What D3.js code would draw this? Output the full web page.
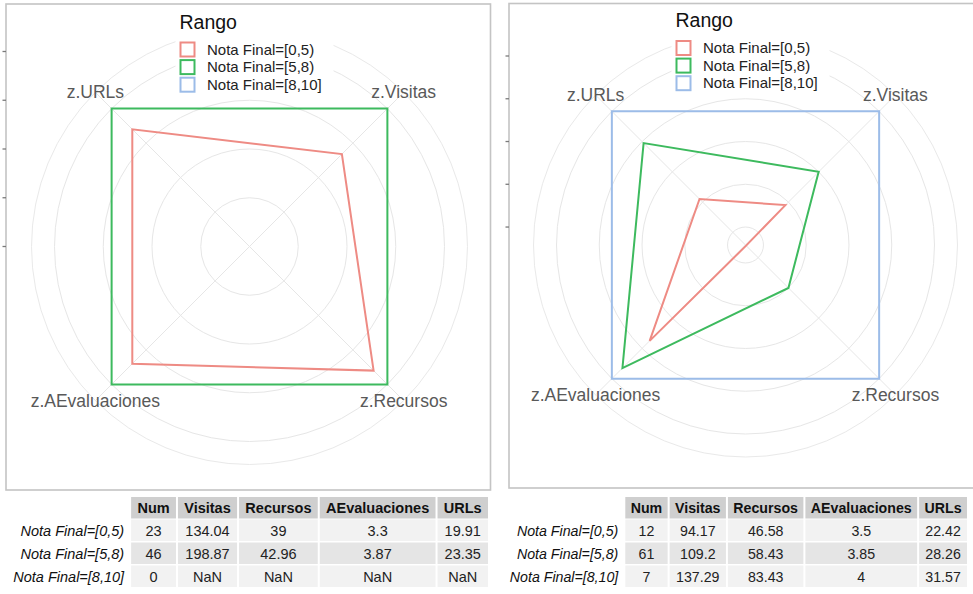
<!DOCTYPE html>
<html><head><meta charset="utf-8">
<script src="https://cdn.jsdelivr.net/npm/d3@7"></script>
<style>
body{margin:0;background:#fff;}
svg{display:block;font-family:"Liberation Sans",Arial,Helvetica,sans-serif;}
</style>
</head><body><svg id="c" width="973" height="594"></svg>
<script>
// ---------------- data ----------------
const categories = ["z.Visitas", "z.Recursos", "z.AEvaluaciones", "z.URLs"];
const groups = ["Nota Final=[0,5)", "Nota Final=[5,8)", "Nota Final=[8,10]"];
const groupColors = ["#ee8b84", "#3dba5e", "#9cbce8"];
const legendTitle = "Rango";

// left radar (scaled values); [8,10] has no rows -> no polygon
const leftZ05 = [0.67, 0.90, 0.85, 0.85];
const leftZ58 = [1, 1, 1, 1];
const leftZ810 = null;
const leftRadialMin = 0;
const leftGridTicks = [0, 0.25, 0.5, 0.75, 1];

// right radar
const rightZ05 = [0.69, 0.56, 0.875, 0.71];
const rightZ58 = [0.80, 0.70, 0.965, 0.895];
const rightZ810 = [1, 1, 1, 1];
const rightRadialMin = 0.558;
const rightGridTicks = [0.6, 0.7, 0.8, 0.9, 1];

// summary tables
const tableCols = ["Num", "Visitas", "Recursos", "AEvaluaciones", "URLs"];
const leftTableRows = [
  ["23", "134.04", "39", "3.3", "19.91"],
  ["46", "198.87", "42.96", "3.87", "23.35"],
  ["0", "NaN", "NaN", "NaN", "NaN"]
];
const rightTableRows = [
  ["12", "94.17", "46.58", "3.5", "22.42"],
  ["61", "109.2", "58.43", "3.85", "28.26"],
  ["7", "137.29", "83.43", "4", "31.57"]
];

// ---------------- drawing ----------------
const svg = d3.select("#c");

const panels = [
  { cx: 249.5, cy: 246.5, rMax: 195, frame: [6, 4, 484.5, 486],
    series: [leftZ05, leftZ58, leftZ810], rMin: leftRadialMin, ticks: leftGridTicks },
  { cx: 745.5, cy: 245, rMax: 189, frame: [509, 3.5, 520, 484.5],
    series: [rightZ05, rightZ58, rightZ810], rMin: rightRadialMin, ticks: rightGridTicks }
];

const angle = d3.scalePoint().domain(categories).range([Math.PI / 4, Math.PI / 4 + 1.5 * Math.PI]);

panels.forEach(p => {
  const g = svg.append("g");
  const r = d3.scaleLinear().domain([p.rMin, 1]).range([0, p.rMax]);
  const rOuter = p.rMax + 23;

  // frame
  g.append("rect").attr("x", p.frame[0]).attr("y", p.frame[1])
    .attr("width", p.frame[2]).attr("height", p.frame[3])
    .attr("fill", "none").attr("stroke", "#c4c4c4").attr("stroke-width", 1.6);

  // left-side ticks
  g.selectAll(".ytick").data(p.ticks).join("line")
    .attr("x1", p.frame[0] - 3.5).attr("x2", p.frame[0])
    .attr("y1", d => p.cy - r(d)).attr("y2", d => p.cy - r(d))
    .attr("stroke", "#7a7a7a").attr("stroke-width", 1.3);

  const pg = g.append("g").attr("transform", `translate(${p.cx},${p.cy})`);

  // grid circles
  pg.selectAll(".grid").data(p.ticks.filter(t => r(t) > 1)).join("circle")
    .attr("r", d => r(d)).attr("fill", "none")
    .attr("stroke", "#e6e6e6").attr("stroke-width", 1);
  pg.append("circle").attr("r", rOuter).attr("fill", "none")
    .attr("stroke", "#e9e9e9").attr("stroke-width", 1);

  // spokes
  pg.selectAll(".spoke").data(categories).join("line")
    .attr("x1", 0).attr("y1", 0)
    .attr("x2", d => rOuter * Math.sin(angle(d)))
    .attr("y2", d => -rOuter * Math.cos(angle(d)))
    .attr("stroke", "#e6e6e6").attr("stroke-width", 1);

  // polygons
  const line = d3.lineRadial()
    .angle((d, i) => angle(categories[i]))
    .radius(d => r(d))
    .curve(d3.curveLinearClosed);
  p.series.forEach((s, gi) => {
    if (!s) return;
    pg.append("path").attr("d", line(s)).attr("fill", "none")
      .attr("stroke", groupColors[gi]).attr("stroke-width", 2)
      .attr("stroke-linejoin", "miter");
  });

  // axis labels
  pg.selectAll(".alab").data(categories).join("text")
    .attr("x", d => rOuter * Math.sin(angle(d)))
    .attr("y", d => -rOuter * Math.cos(angle(d)))
    .attr("text-anchor", "middle").attr("dominant-baseline", "central")
    .attr("font-size", 17.5).attr("fill", "#595959")
    .text(d => d);

  // legend
  const lx = p.cx - 70, keyTop = p.cy - 205, step = 17.6;
  const lg = g.append("g");
  lg.append("rect").attr("x", lx - 4).attr("y", p.cy - 236)
    .attr("width", 158).attr("height", keyTop + 54 - (p.cy - 236)).attr("fill", "#fff");
  lg.append("text").attr("x", lx).attr("y", p.cy - 218)
    .attr("font-size", 19.5).attr("fill", "#111").text(legendTitle);
  groups.forEach((gname, i) => {
    lg.append("rect").attr("x", lx + 1).attr("y", keyTop + i * step + 1)
      .attr("width", 14).attr("height", 14).attr("fill", "#fff")
      .attr("stroke", groupColors[i]).attr("stroke-width", 2);
    lg.append("text").attr("x", lx + 27.5).attr("y", keyTop + i * step + 13)
      .attr("font-size", 15).attr("fill", "#222").text(gname);
  });
});

// ---------------- tables ----------------
function measure(txt, size, weight, style) {
  const t = svg.append("text").attr("font-size", size)
    .attr("font-weight", weight).attr("font-style", style).text(txt);
  const w = t.node().getComputedTextLength();
  t.remove();
  return w;
}

function drawTable(rows, rightEdge, fs, pad) {
  const widths = tableCols.map((c, j) => Math.max(
    measure(c, fs, "bold", "normal"),
    ...rows.map(rw => measure(rw[j], fs, "normal", "normal"))) + 2 * pad);
  const total = d3.sum(widths);
  const x0 = rightEdge - total;
  const xs = [];
  let acc = x0;
  widths.forEach(w => { xs.push(acc); acc += w; });
  const headY = 497, headH = 21.5, rowH = 23;
  const g = svg.append("g");
  tableCols.forEach((c, j) => {
    g.append("rect").attr("x", xs[j] + 1).attr("y", headY)
      .attr("width", widths[j] - 2).attr("height", headH).attr("fill", "#cfcfcf");
    g.append("text").attr("x", xs[j] + widths[j] / 2).attr("y", headY + headH / 2)
      .attr("text-anchor", "middle").attr("dominant-baseline", "central")
      .attr("font-size", fs).attr("font-weight", "bold").attr("fill", "#111").text(c);
  });
  rows.forEach((rw, i) => {
    const y = headY + headH + 1 + i * rowH;
    g.append("text").attr("x", x0 - 6).attr("y", y + rowH / 2)
      .attr("text-anchor", "end").attr("dominant-baseline", "central")
      .attr("font-size", fs).attr("font-style", "italic").attr("fill", "#111").text(groups[i]);
    rw.forEach((v, j) => {
      g.append("rect").attr("x", xs[j] + 1).attr("y", y)
        .attr("width", widths[j] - 2).attr("height", rowH - 1.5)
        .attr("fill", i % 2 === 0 ? "#f2f2f2" : "#e5e5e5");
      g.append("text").attr("x", xs[j] + widths[j] / 2).attr("y", y + rowH / 2)
        .attr("text-anchor", "middle").attr("dominant-baseline", "central")
        .attr("font-size", fs).attr("fill", "#222").text(v);
    });
  });
}

drawTable(leftTableRows, 489, 14.5, 7.3);
drawTable(rightTableRows, 968, 14.2, 6.4);
</script>
</body></html>
